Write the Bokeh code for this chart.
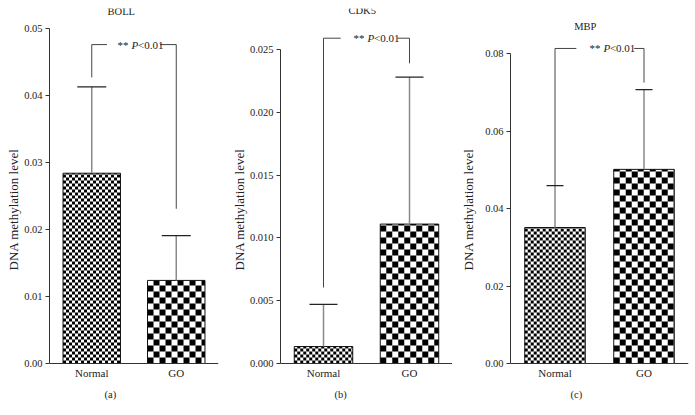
import numpy as np
from bokeh.plotting import figure
from bokeh.layouts import row
from bokeh.models import (ColumnDataSource, Whisker, TeeHead, Label, FixedTicker,
                          Range1d, PrintfTickFormatter, Span)
from bokeh.embed import file_html
from bokeh.resources import INLINE

# ---------------- data ----------------
categories = ["Normal", "GO"]

boll_means = [0.0284, 0.0124]
boll_err_tops = [0.0413, 0.0191]
cdk5_means = [0.00135, 0.0111]
cdk5_err_tops = [0.0047, 0.0228]
mbp_means = [0.0351, 0.0501]
mbp_err_tops = [0.0459, 0.0707]

boll_ticks = [0.00, 0.01, 0.02, 0.03, 0.04, 0.05]
cdk5_ticks = [0.000, 0.005, 0.010, 0.015, 0.020, 0.025]
mbp_ticks = [0.00, 0.02, 0.04, 0.06, 0.08]

# significance bracket: [top, left leg end, right leg end]
boll_bracket = [0.0476, 0.0427, 0.0231]
cdk5_bracket = [0.0259, 0.00605, 0.0239]
mbp_bracket = [0.0813, 0.0459, 0.0725]
sig_parts = ["**", "P", "<0.01"]

titles = ["BOLL", "CDK5", "MBP"]
sublabels = ["(a)", "(b)", "(c)"]
y_title = "DNA methylation level"

FONT = "Liberation Serif"
TXT = "#222222"
FRAME_TOP = 8
ZERO_Y = 363
FIG_H = 410
BAR_W = 0.68


def checker(xc, top, cell_px, ppx, ppy):
    dx, dy = cell_px / ppx, cell_px / ppy
    left, right = xc - BAR_W / 2, xc + BAR_W / 2
    nc = int(np.ceil((right - left) / dx - 1e-9))
    nr = int(np.ceil(top / dy - 1e-9))
    c, r = np.meshgrid(np.arange(nc), np.arange(nr))
    c, r = c.ravel(), r.ravel()
    keep = (r + c) % 2 == 0
    c, r = c[keep], r[keep]
    x0 = left + c * dx
    x1 = np.minimum(x0 + dx, right)
    y0 = r * dy
    y1 = np.minimum(y0 + dy, top)
    return dict(left=x0, right=x1, bottom=y0, top=y1)


def panel(title, sub, means, err_tops, ticks, fmt, ppy, bracket, gap, text_x,
          title_x, title_dy, sub_x, width, left, right, lab_standoff, cap):
    xs = list(range(1, len(categories) + 1))
    frame_h = FIG_H - FRAME_TOP
    y_end = (ZERO_Y - FRAME_TOP) / ppy
    y_start = -(FIG_H - ZERO_Y) / ppy
    frame_w = width - left - right
    ppx = frame_w / 2.0
    p = figure(width=width, height=FIG_H, output_backend="svg", toolbar_location=None,
               x_range=Range1d(0.5, 2.5), y_range=Range1d(y_start, y_end),
               min_border_left=left, min_border_right=right,
               min_border_top=FRAME_TOP, min_border_bottom=0)
    p.outline_line_color = None
    p.grid.visible = False
    p.background_fill_color = "white"
    p.xaxis.visible = False

    # bars: white base, checker cells, outline
    p.vbar(x=xs, top=means, bottom=0, width=BAR_W, fill_color="white", line_color=None)
    for i, cell_px in enumerate([3, 6]):
        cells = checker(xs[i], means[i], cell_px, ppx, ppy)
        p.quad(source=ColumnDataSource(cells), left="left", right="right",
               bottom="bottom", top="top", fill_color="black", line_color=None)
    p.vbar(x=xs, top=means, bottom=0, width=BAR_W, fill_color=None,
           line_color="#111111", line_width=1)

    src = ColumnDataSource(dict(x=xs, mean=means, err=err_tops))
    w = Whisker(source=src, base="x", lower="mean", upper="err", dimension="height",
                line_color="#8a8a8a", line_width=1.5,
                upper_head=TeeHead(size=cap, line_color="#222222", line_width=1.3),
                lower_head=None, level="glyph")
    p.add_layout(w)

    # x axis line
    p.add_layout(Span(location=0, dimension="width", line_color="#333333", line_width=1))

    # significance bracket
    top, lend, rend = bracket
    p.segment(x0=[xs[0], xs[0], gap[1], xs[1]], y0=[lend, top, top, top],
              x1=[xs[0], gap[0], xs[1], xs[1]], y1=[top, top, top, rend],
              line_color="#444444", line_width=1)
    offs = [-19, -5, 1.5]
    styles = ["normal", "italic", "normal"]
    for part, off, st in zip(sig_parts, offs, styles):
        p.add_layout(Label(x=text_x, y=top, x_offset=off, text=part, text_font=FONT,
                           text_font_size="11px", text_font_style=st, text_color=TXT,
                           text_align="left", text_baseline="middle"))

    # category labels
    for x, c in zip(xs, categories):
        p.add_layout(Label(x=x, y=-9 / ppy, text=c, text_font=FONT, text_font_size="11px",
                           text_color=TXT, text_align="center", text_baseline="middle"))
    # title & sublabel
    p.add_layout(Label(x=title_x, y=y_end - title_dy / ppy, text=title, text_font=FONT,
                       text_font_size="10.5px", text_color=TXT, text_align="center",
                       text_baseline="middle"))
    p.add_layout(Label(x=sub_x, y=-31 / ppy, text=sub, text_font=FONT,
                       text_font_size="10.5px", text_color=TXT, text_align="center",
                       text_baseline="middle"))

    # y axis
    ya = p.yaxis[0]
    ya.ticker = FixedTicker(ticks=ticks)
    ya.formatter = PrintfTickFormatter(format=fmt)
    ya.bounds = (ticks[0], ticks[-1])
    ya.axis_label = y_title
    ya.axis_label_text_font = FONT
    ya.axis_label_text_font_style = "normal"
    ya.axis_label_text_font_size = "13px"
    ya.axis_label_text_color = TXT
    ya.axis_label_standoff = lab_standoff
    ya.major_label_text_font = FONT
    ya.major_label_text_font_size = "10.5px"
    ya.major_label_text_color = TXT
    ya.major_label_standoff = 3
    ya.major_tick_out = 4
    ya.major_tick_in = 0
    ya.minor_tick_line_color = None
    ya.axis_line_color = "#333333"
    ya.major_tick_line_color = "#333333"
    return p


pa = panel(titles[0], sublabels[0], boll_means, boll_err_tops, boll_ticks, "%.2f", 6700,
           boll_bracket, (1.18, 1.81), 1.53, 1.35, 3, 1.22, 220, 49, 2, 0, 29)
pb = panel(titles[1], sublabels[1], cdk5_means, cdk5_err_tops, cdk5_ticks, "%.3f", 12560,
           cdk5_bracket, (1.2, 1.86), 1.57, 1.45, 2, 1.2, 232, 60, 0, 0, 28)
pc = panel(titles[2], sublabels[2], mbp_means, mbp_err_tops, mbp_ticks, "%.2f", 3875,
           mbp_bracket, (1.24, 1.89), 1.60, 1.34, 18, 1.24, 242, 58, 6, 6, 17)

layout = row(pa, pb, pc)
open("out.html", "w").write(file_html(layout, INLINE))
